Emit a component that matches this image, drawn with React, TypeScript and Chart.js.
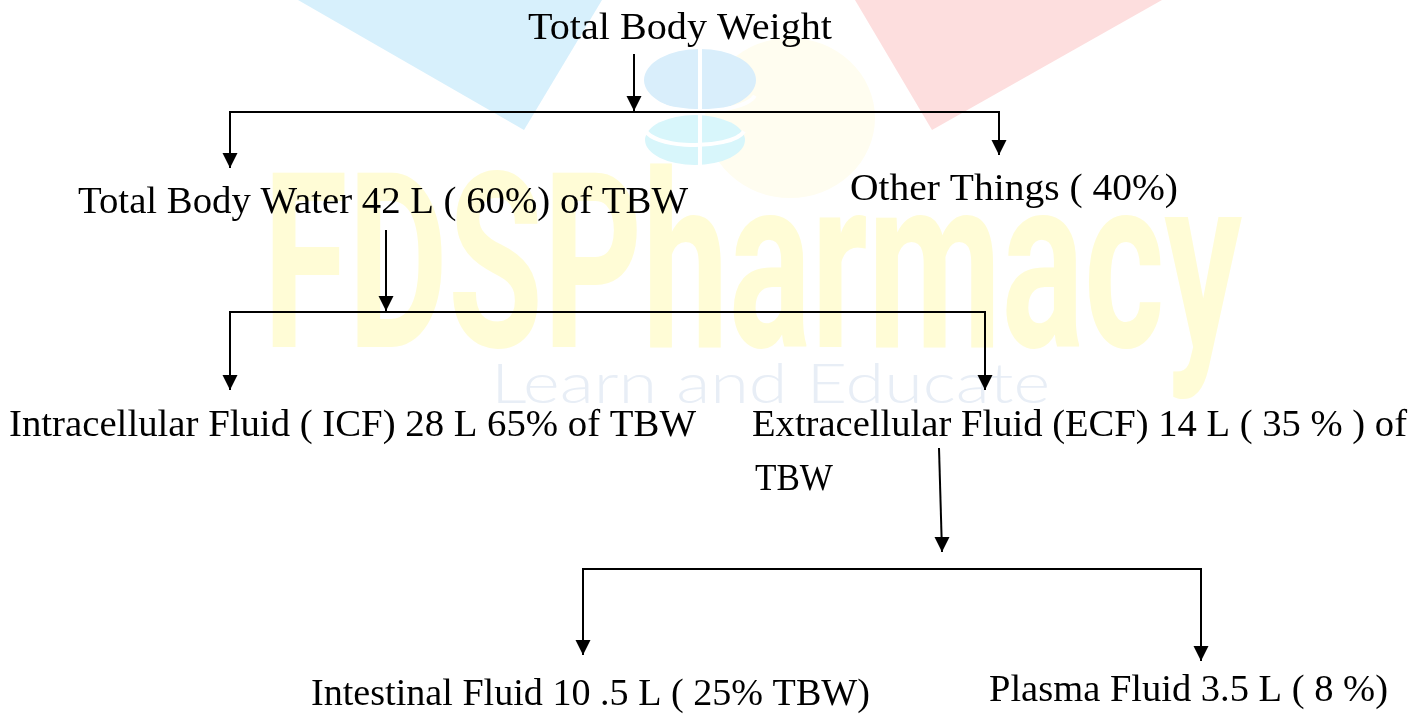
import React, { useEffect, useRef } from "react";
import { Chart, registerables } from "chart.js";

Chart.register(...registerables);

// ---- Diagram content ----
const nodeLabels = [
  "Total Body Weight",
  "Total Body Water 42 L ( 60%) of TBW",
  "Other Things ( 40%)",
  "Intracellular Fluid ( ICF) 28 L 65% of TBW",
  "Extracellular Fluid (ECF) 14 L ( 35 % ) of",
  "TBW",
  "Intestinal Fluid 10 .5 L ( 25% TBW)",
  "Plasma Fluid 3.5 L ( 8 %)",
];
const nodeLeft = [528, 78, 850, 9, 752, 755, 311, 989];
const nodeRight = [832, 688, 1178, 696, 1407, 833, 870, 1388];
const nodeBaseline = [39, 213, 200, 436, 436, 490, 705, 701];

// stems: single arrows, tip at the last point
const stemLines = [
  [[634, 54], [634, 111]],
  [[386, 230], [386, 311]],
  [[939, 448], [942, 552]],
];
// brackets: arrow tips at the first and the last point
const bracketLines = [
  [[230, 168], [230, 112], [999, 112], [999, 155]],
  [[230, 390], [230, 312], [985, 312], [985, 390]],
  [[583, 655], [583, 569], [1201, 569], [1201, 661]],
];

const watermarkTitle = "FDSPharmacy";
const watermarkSubtitle = "Learn and Educate";

const W = 1414;
const H = 715;

const toPts = (arr: number[][]) => arr.map(([x, y]) => ({ x, y }));

const diagramPlugin = {
  id: "diagram",
  beforeDatasetsDraw(chart: any) {
    const ctx = chart.ctx as CanvasRenderingContext2D;
    const xs = chart.scales.x;
    const ys = chart.scales.y;
    const X = (v: number) => xs.getPixelForValue(v);
    const Y = (v: number) => ys.getPixelForValue(v);
    ctx.save();
    // blue triangle
    ctx.fillStyle = "#d7f0fc";
    ctx.beginPath();
    ctx.moveTo(X(298), Y(0));
    ctx.lineTo(X(602), Y(0));
    ctx.lineTo(X(524), Y(130));
    ctx.closePath();
    ctx.fill();
    // pink triangle
    ctx.fillStyle = "#fddede";
    ctx.beginPath();
    ctx.moveTo(X(855), Y(0));
    ctx.lineTo(X(1162), Y(0));
    ctx.lineTo(X(932), Y(130));
    ctx.closePath();
    ctx.fill();
    // faint yellow disc
    ctx.fillStyle = "#fffdf0";
    ctx.beginPath();
    ctx.ellipse(X(790), Y(118), 85, 80, 0, 0, Math.PI * 2);
    ctx.fill();
    // pill logo
    ctx.fillStyle = "#d9eefb";
    ctx.beginPath();
    ctx.ellipse(X(700), Y(80), 56, 31, 0, 0, Math.PI * 2);
    ctx.fill();
    ctx.fillStyle = "#d8f6fb";
    ctx.beginPath();
    ctx.ellipse(X(695), Y(140), 50, 25, 0, 0, Math.PI * 2);
    ctx.fill();
    ctx.strokeStyle = "#ffffff";
    ctx.lineWidth = 4;
    ctx.beginPath();
    ctx.moveTo(X(700), Y(48));
    ctx.lineTo(X(700), Y(166));
    ctx.stroke();
    ctx.beginPath();
    ctx.ellipse(X(700), Y(92), 56, 19, 0, 0.2, Math.PI - 0.2);
    ctx.stroke();
    ctx.beginPath();
    ctx.ellipse(X(695), Y(128), 50, 17, 0, 0.2, Math.PI - 0.2);
    ctx.stroke();
    // FDSPharmacy watermark
    ctx.fillStyle = "#fffcd6";
    ctx.font = "bold 245px Roboto";
    ctx.textBaseline = "alphabetic";
    let w = ctx.measureText(watermarkTitle).width;
    ctx.save();
    ctx.translate(X(263), Y(347));
    ctx.scale((X(1242) - X(263)) / w, 1);
    ctx.fillText(watermarkTitle, 0, 0);
    ctx.restore();
    // Learn and Educate
    ctx.fillStyle = "#e8eef6";
    ctx.font = "300 56px Lato";
    w = ctx.measureText(watermarkSubtitle).width;
    ctx.save();
    ctx.translate(X(491), Y(403));
    ctx.scale((X(1050) - X(491)) / w, 1);
    ctx.fillText(watermarkSubtitle, 0, 0);
    ctx.restore();
    ctx.restore();
  },
  afterDatasetsDraw(chart: any) {
    const ctx = chart.ctx as CanvasRenderingContext2D;
    const xs = chart.scales.x;
    const ys = chart.scales.y;
    const X = (v: number) => xs.getPixelForValue(v);
    const Y = (v: number) => ys.getPixelForValue(v);
    const tips: number[][] = [];
    stemLines.forEach((l) => tips.push(l[l.length - 1]));
    bracketLines.forEach((l) => {
      tips.push(l[0]);
      tips.push(l[l.length - 1]);
    });
    ctx.save();
    ctx.fillStyle = "#000";
    tips.forEach(([x, y]) => {
      const px = X(x);
      const py = Y(y);
      ctx.beginPath();
      ctx.moveTo(px, py);
      ctx.lineTo(px - 7.5, py - 15);
      ctx.lineTo(px + 7.5, py - 15);
      ctx.closePath();
      ctx.fill();
    });
    // labels
    ctx.fillStyle = "#000";
    ctx.font = '38px "Liberation Serif"';
    ctx.textBaseline = "alphabetic";
    nodeLabels.forEach((t, i) => {
      const w = ctx.measureText(t).width;
      const l = X(nodeLeft[i]);
      const r = X(nodeRight[i]);
      ctx.save();
      ctx.translate(l, Y(nodeBaseline[i]));
      ctx.scale((r - l) / w, 1);
      ctx.fillText(t, 0, 0);
      ctx.restore();
    });
    ctx.restore();
  },
};

export default function App() {
  const ref = useRef<HTMLCanvasElement | null>(null);
  useEffect(() => {
    document.body.style.margin = "0";
    const lineStyle = {
      showLine: true,
      borderColor: "#000",
      borderWidth: 2,
      pointRadius: 0,
      pointHoverRadius: 0,
      fill: false,
      tension: 0,
    };
    const datasets = [...stemLines, ...bracketLines].map((l, i) => ({
      label: "c" + i,
      data: toPts(l),
      ...lineStyle,
    }));
    const chart = new Chart(ref.current as HTMLCanvasElement, {
      type: "scatter",
      data: { datasets },
      options: {
        animation: false,
        responsive: true,
        maintainAspectRatio: false,
        events: [],
        layout: { padding: 0 },
        plugins: { legend: { display: false }, tooltip: { enabled: false } },
        scales: {
          x: { type: "linear", min: 0, max: W, display: false },
          y: { type: "linear", min: 0, max: H, reverse: true, display: false },
        },
      },
      plugins: [diagramPlugin],
    } as any);
    return () => chart.destroy();
  }, []);
  return (
    <div style={{ position: "fixed", left: 0, top: 0, width: W, height: H, background: "#fff" }}>
      <canvas ref={ref} />
    </div>
  );
}
